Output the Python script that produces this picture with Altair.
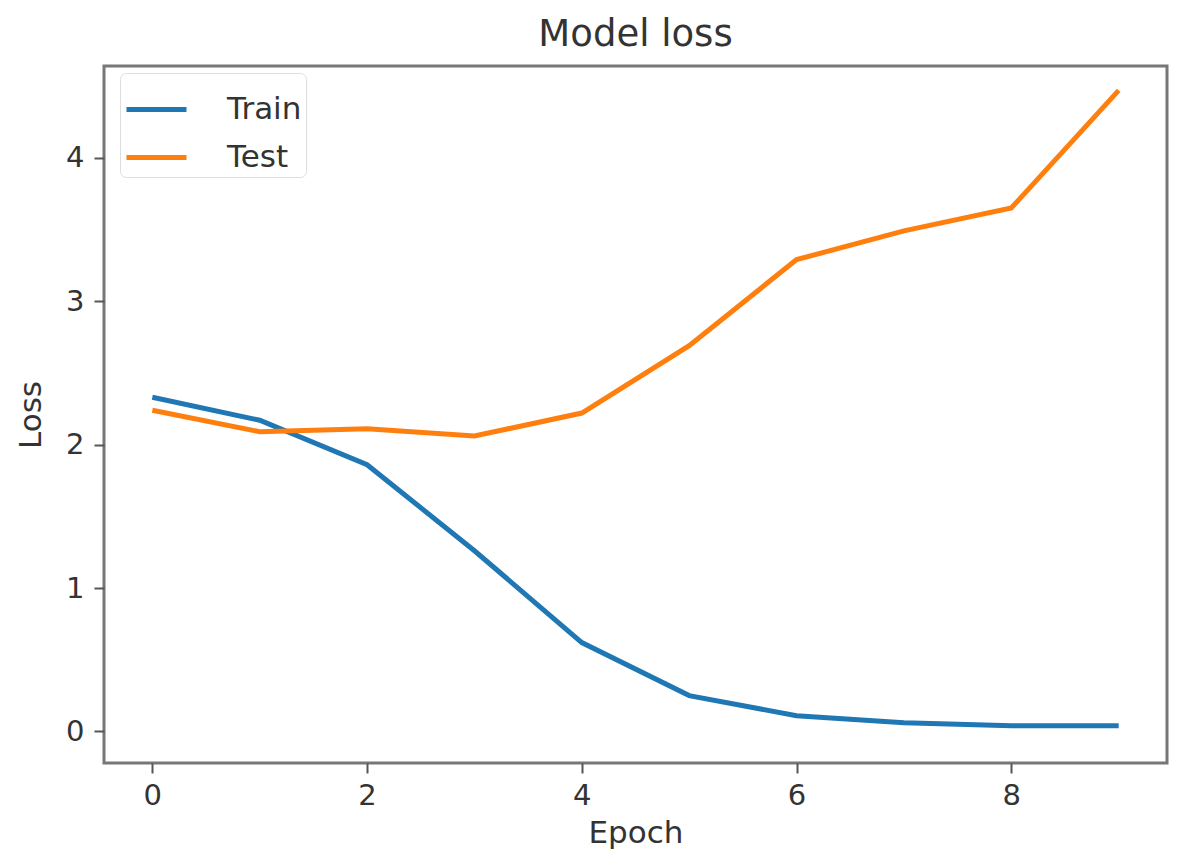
import altair as alt
import pandas as pd

epochs = list(range(10))
train_loss = [2.33, 2.17, 1.86, 1.26, 0.62, 0.25, 0.11, 0.06, 0.04, 0.04]
test_loss = [2.24, 2.09, 2.11, 2.06, 2.22, 2.69, 3.29, 3.49, 3.65, 4.47]
series_names = ["Train", "Test"]
series_colors = ["#1f77b4", "#ff7f0e"]
x_ticks = [0, 2, 4, 6, 8]
y_ticks = [0, 1, 2, 3, 4]

df = pd.concat([
    pd.DataFrame({"Epoch": epochs, "Loss": train_loss, "Series": "Train"}),
    pd.DataFrame({"Epoch": epochs, "Loss": test_loss, "Series": "Test"}),
])
df["order"] = df["Series"].map({"Train": 0, "Test": 1})

font = "DejaVu Sans"

chart = alt.Chart(df).mark_line(strokeWidth=5).encode(
    x=alt.X("Epoch:Q", scale=alt.Scale(domain=[-0.45, 9.45], nice=False, zero=False),
            axis=alt.Axis(values=x_ticks, title="Epoch", grid=False, domain=False,
                          tickColor="#555", tickSize=10, tickWidth=2,
                          labelFontSize=29, labelColor="#333", labelPadding=8,
                          titleFontSize=31, titleFontWeight="normal", titleColor="#333",
                          titlePadding=8, labelFont=font, titleFont=font)),
    y=alt.Y("Loss:Q", scale=alt.Scale(domain=[-0.22, 4.64], nice=False, zero=False),
            axis=alt.Axis(values=y_ticks, title="Loss", grid=False, domain=False,
                          tickColor="#555", tickSize=10, tickWidth=2,
                          labelFontSize=29, labelColor="#333", labelPadding=10,
                          titleFontSize=31, titleFontWeight="normal", titleColor="#333",
                          titlePadding=18, labelFont=font, titleFont=font)),
    color=alt.Color("Series:N", scale=alt.Scale(domain=series_names, range=series_colors),
                    sort=series_names,
                    legend=alt.Legend(title=None, orient="none", legendX=16, legendY=7,
                                      symbolType="stroke", symbolStrokeWidth=5, symbolSize=3600,
                                      labelFontSize=31, labelColor="#333", labelFont=font,
                                      rowPadding=-8, padding=4, labelOffset=38,
                                      strokeColor="#ddd", fillColor="white",
                                      cornerRadius=6)),
    order="order:Q",
    detail="Series:N",
).properties(
    width=1063, height=697,
    title=alt.Title("Model loss", fontSize=37, fontWeight="normal", color="#333",
                    font=font, offset=12),
    autosize=alt.AutoSizeParams(type="none"),
    padding={"left": 96, "top": 58, "right": 20, "bottom": 90},
).configure_view(
    stroke="#777", strokeWidth=3
)

chart.save("out.html", embed_options={"renderer": "svg", "actions": False})
